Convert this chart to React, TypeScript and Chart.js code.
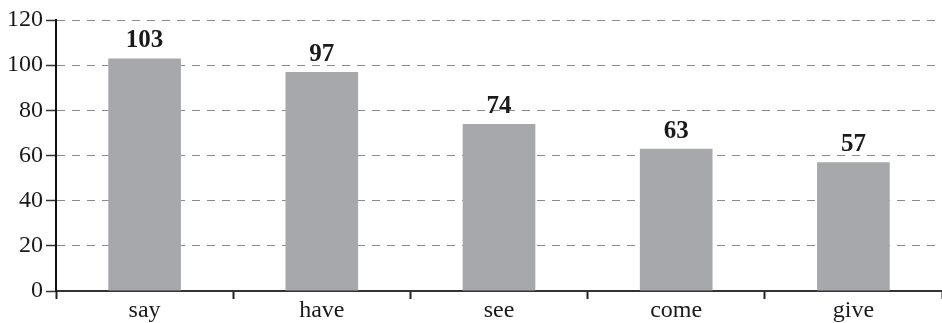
import React, { useEffect, useRef } from "react";
import { Chart, registerables } from "chart.js";

Chart.register(...registerables);

const categories = ["say", "have", "see", "come", "give"];
const values = [103, 97, 74, 63, 57];
const yTicks = [0, 20, 40, 60, 80, 100, 120];

const FONT = "'Liberation Serif', 'Times New Roman', serif";

const valueLabels = {
  id: "valueLabels",
  afterDatasetsDraw(chart: any) {
    const { ctx } = chart;
    const meta = chart.getDatasetMeta(0);
    ctx.save();
    ctx.font = `bold 25px ${FONT}`;
    ctx.fillStyle = "#1a1a1a";
    ctx.textAlign = "center";
    ctx.textBaseline = "bottom";
    meta.data.forEach((bar: any, i: number) => {
      ctx.fillText(String(values[i]), bar.x, bar.y - 5);
    });
    ctx.restore();
  },
};

export default function App() {
  const ref = useRef<HTMLCanvasElement>(null);
  useEffect(() => {
    document.body.style.margin = "0";
    const chart = new Chart(ref.current!, {
      type: "bar",
      data: {
        labels: categories,
        datasets: [
          {
            data: values,
            backgroundColor: "#a7a8ab",
            barPercentage: 0.41,
            categoryPercentage: 1,
          },
        ],
      },
      options: {
        animation: false,
        responsive: false,
        maintainAspectRatio: false,
        layout: { padding: { top: 20, right: 0, left: 4, bottom: 0 } },
        plugins: { legend: { display: false }, tooltip: { enabled: false } },
        scales: {
          x: {
            grid: {
              offset: true,
              drawOnChartArea: false,
              drawTicks: true,
              tickLength: 8,
              tickColor: "#222",
              tickWidth: 2,
            },
            border: { display: true, color: "#333", width: 2 },
            ticks: {
              color: "#1a1a1a",
              font: { family: FONT, size: 24, lineHeight: 1.0 },
              padding: 0,
            },
          },
          y: {
            min: 0,
            max: 120,
            afterBuildTicks: (axis: any) => {
              axis.ticks = yTicks.map((v) => ({ value: v }));
            },
            grid: {
              color: "#8a8a8a",
              lineWidth: 1,
              drawTicks: true,
              tickLength: 10,
              tickColor: "#333",
              tickWidth: 1.5,
              tickBorderDash: [],
            },
            border: { display: true, color: "#111", width: 2, dash: [8, 7] },
            ticks: {
              color: "#1a1a1a",
              font: { family: FONT, size: 24 },
              padding: 3,
            },
          },
        },
      },
      plugins: [valueLabels],
    });
    return () => chart.destroy();
  }, []);
  return (
    <div style={{ width: 942, height: 323 }}>
      <canvas ref={ref} width={942} height={323} style={{ display: "block" }} />
    </div>
  );
}
